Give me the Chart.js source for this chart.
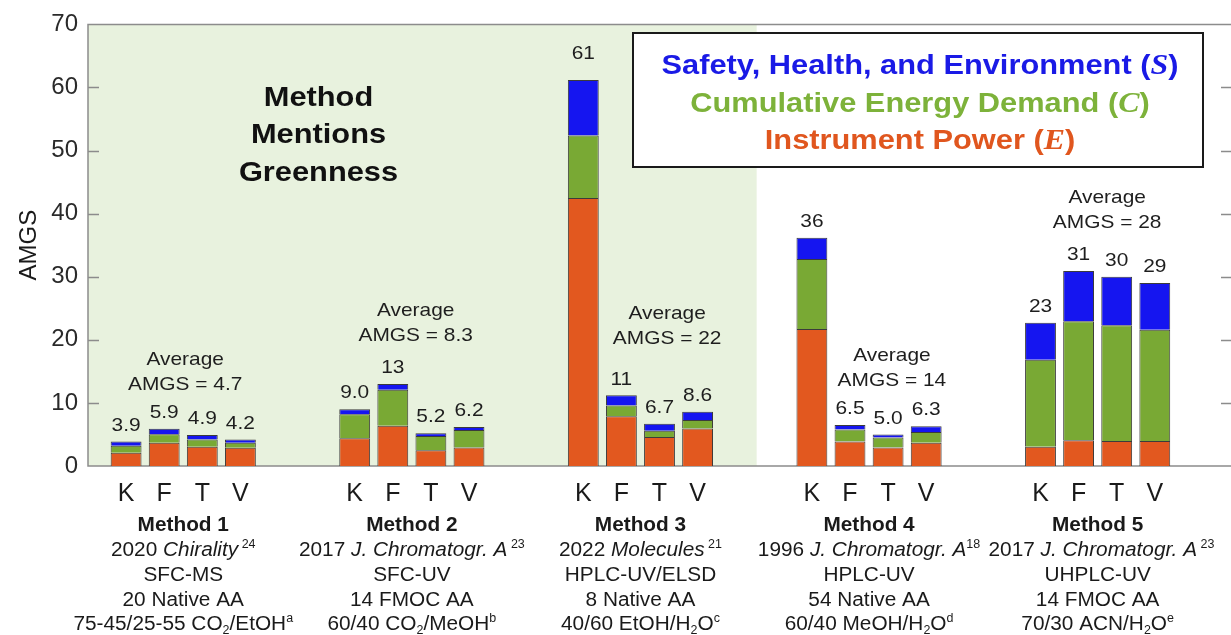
<!DOCTYPE html>
<html>
<head>
<meta charset="utf-8">
<script src="https://cdn.jsdelivr.net/npm/chart.js@4/dist/chart.umd.min.js"></script>
<style>
  html, body { margin:0; padding:0; background:#fff; overflow:hidden; }
  #wrap { width:1231px; height:635px; position:relative; }
</style>
</head>
<body>
<div id="wrap"><canvas id="amgs"></canvas></div>
<script>
// --- data ---
const methods = ['Method 1','Method 2','Method 3','Method 4','Method 5'];
const instruments = ['K','F','T','V'];
const powerE  = [[2.1,3.7,3.05,2.9],[4.4,6.4,2.5,2.95],[42.5,7.9,4.6,5.95],[21.7,3.9,2.95,3.7],[3.05,4.1,3.95,3.95]];
const energyC = [[1.1,1.35,1.15,0.8],[3.8,5.7,2.25,2.75],[9.9,1.7,1.0,1.35],[11.1,1.9,1.55,1.7],[13.8,18.85,18.35,17.65]];
const safetyS = [[0.7,0.85,0.7,0.5],[0.8,0.9,0.45,0.5],[8.8,1.6,1.1,1.3],[3.4,0.7,0.5,0.9],[5.85,7.95,7.7,7.4]];
const totalText = [['3.9','5.9','4.9','4.2'],['9.0','13','5.2','6.2'],['61','11','6.7','8.6'],['36','6.5','5.0','6.3'],['23','31','30','29']];
const averages = ['4.7','8.3','22','14','28'];
const yTicks = [0,10,20,30,40,50,60,70];

const journals = [
  [{t:'2020 '},{t:'Chirality',i:1},{t:' 24',sup:1}],
  [{t:'2017 '},{t:'J. Chromatogr. A',i:1},{t:' 23',sup:1}],
  [{t:'2022 '},{t:'Molecules',i:1},{t:' 21',sup:1}],
  [{t:'1996 '},{t:'J. Chromatogr. A',i:1},{t:'18',sup:1}],
  [{t:'2017 '},{t:'J. Chromatogr. A',i:1},{t:' 23',sup:1}]
];
const techniques = ['SFC-MS','SFC-UV','HPLC-UV/ELSD','HPLC-UV','UHPLC-UV'];
const analytes = ['20 Native AA','14 FMOC AA','8 Native AA','54 Native AA','14 FMOC AA'];
const mobilePhases = [
  [{t:'75-45/25-55 CO'},{t:'2',sub:1},{t:'/EtOH'},{t:'a',sup:1}],
  [{t:'60/40 CO'},{t:'2',sub:1},{t:'/MeOH'},{t:'b',sup:1}],
  [{t:'40/60 EtOH/H'},{t:'2',sub:1},{t:'O'},{t:'c',sup:1}],
  [{t:'60/40 MeOH/H'},{t:'2',sub:1},{t:'O'},{t:'d',sup:1}],
  [{t:'70/30 ACN/H'},{t:'2',sub:1},{t:'O'},{t:'e',sup:1}]
];
const legendLines = [
  {runs:[{t:'Safety, Health, and Environment ('},{t:'S',m:1},{t:')'}], color:'#1a1ae6'},
  {runs:[{t:'Cumulative Energy Demand ('},{t:'C',m:1},{t:')'}], color:'#7db23a'},
  {runs:[{t:'Instrument Power ('},{t:'E',m:1},{t:')'}], color:'#e0561e'}
];

// --- slot layout: one blank slot in front, 2 blank slots after each group ---
const labels = [''];
const slotOf = [];   // slotOf[g][k] -> category index
methods.forEach((m, g) => {
  slotOf.push([]);
  instruments.forEach((ins, k) => { slotOf[g].push(labels.length); labels.push(ins); });
  labels.push('', '');
});
function spread(src) {
  const out = labels.map(() => null);
  src.forEach((row, g) => row.forEach((v, k) => { out[slotOf[g][k]] = v; }));
  return out;
}

const ORANGE = '#e2581f', GREEN = '#79a934', BLUE = '#1515f0';
const SANS = '"Liberation Sans", Arial, sans-serif';
const SERIF = '"Liberation Serif", "DejaVu Serif", serif';
const STRETCH = 1.1;   // the source figure's lettering is a bit wide

// where the annotation text sits (slot offset from group's first bar, value)
const avgPlace = [{dx:1.55,y:16.9},{dx:1.6,y:24.6},{dx:2.2,y:24.2},{dx:2.1,y:17.5},{dx:1.75,y:42.5}];
// method 5 caption sits a little right of its group in the source
const captionShift = [0, 0, 0, 0, 0.1];

function wideText(ctx, t, x, y, sx) {
  ctx.save();
  ctx.translate(x, y);
  ctx.scale(sx, 1);
  ctx.fillText(t, 0, 0);
  ctx.restore();
}
function runFont(r, size, bold) {
  const s = (r.sup || r.sub) ? Math.round(size * 0.6) : size;
  if (r.m) return `italic bold ${s + 1}px ${SERIF}`;
  return `${r.i ? 'italic ' : ''}${bold ? 'bold ' : ''}${s}px ${SANS}`;
}
function drawRuns(ctx, runs, cx, cy, size, bold, color, sx) {
  let w = 0;
  runs.forEach(r => { ctx.font = runFont(r, size, bold); w += ctx.measureText(r.t).width * sx; });
  let x = cx - w / 2;
  const base = cy + size * 0.36;
  ctx.fillStyle = color;
  ctx.textAlign = 'left';
  ctx.textBaseline = 'alphabetic';
  runs.forEach(r => {
    ctx.font = runFont(r, size, bold);
    let y = base;
    if (r.sup) y = base - size * 0.42;
    if (r.sub) y = base + size * 0.2;
    wideText(ctx, r.t, x, y, sx);
    x += ctx.measureText(r.t).width * sx;
  });
}

const decorations = {
  id: 'decorations',
  beforeDatasetsDraw(chart) {
    const {ctx, chartArea: a, scales: {x, y}} = chart;
    ctx.save();
    // greenness shading over methods 1-3
    ctx.fillStyle = '#e8f2de';
    const gx = x.getPixelForValue(17.55);
    ctx.fillRect(a.left, a.top, gx - a.left, a.bottom - a.top);
    // frame + inward ticks
    ctx.strokeStyle = '#8c8c8c';
    ctx.lineWidth = 1.5;
    ctx.beginPath();
    ctx.moveTo(a.right, a.top); ctx.lineTo(a.left, a.top);
    ctx.lineTo(a.left, a.bottom); ctx.lineTo(a.right, a.bottom);
    yTicks.slice(1, -1).forEach(v => {
      const py = Math.round(y.getPixelForValue(v)) + 0.5;
      ctx.moveTo(a.left, py); ctx.lineTo(a.left + 11, py);
      ctx.moveTo(a.right, py); ctx.lineTo(a.right - 10, py);
    });
    ctx.stroke();
    // "Method Mentions Greenness"
    ctx.fillStyle = '#111';
    ctx.font = `bold 28px ${SANS}`;
    ctx.textAlign = 'center';
    ctx.textBaseline = 'middle';
    const mx = x.getPixelForValue(6.05), my = y.getPixelForValue(58.3);
    ['Method', 'Mentions', 'Greenness'].forEach((t, i) => wideText(ctx, t, mx, my + i * 37.5, STRETCH));
    ctx.restore();
  },
  afterDatasetsDraw(chart) {
    const {ctx, chartArea: a, scales: {x, y}} = chart;
    const top = chart.getDatasetMeta(2);
    ctx.save();
    ctx.fillStyle = '#1e1e1e';
    ctx.font = `19px ${SANS}`;
    ctx.textAlign = 'center';
    ctx.textBaseline = 'middle';
    // totals above bars
    methods.forEach((m, g) => instruments.forEach((ins, k) => {
      const el = top.data[slotOf[g][k]];
      const lift = el.y < 120 ? 26 : 16;
      wideText(ctx, totalText[g][k], el.x, el.y - lift, STRETCH);
    }));
    // group averages
    methods.forEach((m, g) => {
      const px = x.getPixelForValue(slotOf[g][0] + avgPlace[g].dx);
      const py = y.getPixelForValue(avgPlace[g].y);
      wideText(ctx, 'Average', px, py, STRETCH);
      wideText(ctx, 'AMGS = ' + averages[g], px, py + 25, STRETCH);
    });
    // legend box
    const bx = 633, by = 33, bw = 570, bh = 134;
    ctx.fillStyle = '#fff';
    ctx.fillRect(bx, by, bw, bh);
    ctx.strokeStyle = '#1a1a1a';
    ctx.lineWidth = 2;
    ctx.strokeRect(bx, by, bw, bh);
    legendLines.forEach((l, i) => drawRuns(ctx, l.runs, bx + bw / 2 + 2, by + 31 + i * 37.5, 28, true, l.color, STRETCH));
    // method descriptions under the axis
    methods.forEach((m, g) => {
      const cx = x.getPixelForValue(slotOf[g][0] + 1.5);
      const jx = x.getPixelForValue(slotOf[g][0] + 1.5 + captionShift[g]);
      const y0 = a.bottom + 58;
      const ink = '#1a1a1a', sx = 1.04;
      drawRuns(ctx, [{t:m}], cx, y0, 20, true, ink, sx);
      drawRuns(ctx, journals[g], jx, y0 + 25, 20, false, ink, sx);
      drawRuns(ctx, [{t:techniques[g]}], cx, y0 + 50, 20, false, ink, sx);
      drawRuns(ctx, [{t:analytes[g]}], cx, y0 + 75, 20, false, ink, sx);
      drawRuns(ctx, mobilePhases[g], cx, y0 + 99, 20, false, ink, sx);
    });
    ctx.restore();
  }
};

const barStyle = { borderColor:'#3b3b3b', borderWidth:1, barPercentage:0.81, categoryPercentage:1 };

new Chart(document.getElementById('amgs'), {
  type: 'bar',
  data: {
    labels,
    datasets: [
      { label:'Instrument Power (E)', data: spread(powerE), backgroundColor: ORANGE, ...barStyle },
      { label:'Cumulative Energy Demand (C)', data: spread(energyC), backgroundColor: GREEN, ...barStyle },
      { label:'Safety, Health, and Environment (S)', data: spread(safetyS), backgroundColor: BLUE, ...barStyle }
    ]
  },
  options: {
    responsive: true,
    maintainAspectRatio: false,
    animation: false,
    layout: { padding: { top: 23, right: 0, left: 0, bottom: 0 } },
    plugins: { legend: { display:false }, tooltip: { enabled:false } },
    scales: {
      x: {
        stacked: true,
        offset: false,
        grid: { display:false, drawTicks:false },
        border: { display:false },
        ticks: { autoSkip:false, maxRotation:0, padding:13, color:'#1a1a1a', font:{ family:SANS, size:25 } },
        afterFit: s => { s.height = 169; s.paddingLeft = 0; s.paddingRight = 0; }
      },
      y: {
        stacked: true,
        min: 0, max: 70,
        grid: { display:false, drawTicks:false },
        border: { display:false },
        ticks: { stepSize:10, padding:10, color:'#2a2a2a', font:{ family:SANS, size:24 } },
        title: { display:true, text:'AMGS', color:'#1a1a1a', font:{ family:SANS, size:24 }, padding:{ top:15, bottom:0 } },
        afterFit: s => { s.width = 88; }
      }
    }
  },
  plugins: [decorations]
});
</script>
</body>
</html>
